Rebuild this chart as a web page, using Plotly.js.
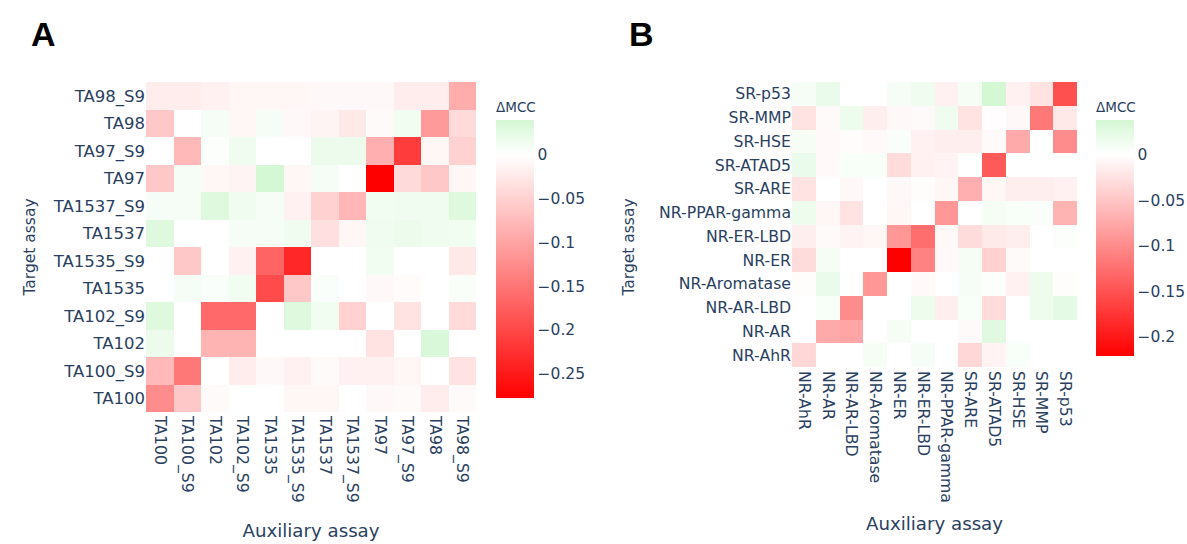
<!DOCTYPE html>
<html>
<head>
<meta charset="utf-8">
<script src="https://cdn.plot.ly/plotly-3.0.1.min.js"></script>
<style>
  html, body { margin: 0; padding: 0; background: #fff; }
  #chart { width: 1187px; height: 544px; }
</style>
</head>
<body>
<div id="chart"></div>
<script>
// ---- Panel A: Ames strains (with / without S9) ----
const assaysA = ["TA100", "TA100_S9", "TA102", "TA102_S9", "TA1535", "TA1535_S9",
                 "TA1537", "TA1537_S9", "TA97", "TA97_S9", "TA98", "TA98_S9"];

// one row per target assay (bottom to top), one value per auxiliary assay
const rowA_TA100     = [-0.125, -0.06, -0.005, 0, 0, -0.01, -0.01, 0, -0.008, -0.005, -0.02, -0.005];
const rowA_TA100_S9  = [-0.076, -0.147, 0, -0.02, -0.008, -0.015, -0.005, -0.015, -0.015, -0.01, 0, -0.03];
const rowA_TA102     = [0.018, 0, -0.082, -0.082, 0, 0, 0, 0, -0.03, 0, 0.035, 0];
const rowA_TA102_S9  = [0.03, 0, -0.163, -0.163, 0, 0.03, 0.012, -0.05, 0, -0.03, 0, -0.04];
const rowA_TA1535    = [0, 0.008, 0.005, 0.012, -0.196, -0.06, 0.005, 0, -0.008, -0.004, 0, 0.006];
const rowA_TA1535_S9 = [0, -0.06, 0, -0.015, -0.169, -0.235, 0, 0, 0.012, 0, 0, -0.025];
const rowA_TA1537    = [0.03, 0, 0, 0.008, 0.008, 0.015, -0.035, -0.01, 0.015, 0.018, 0.015, 0.012];
const rowA_TA1537_S9 = [0.008, 0.008, 0.03, 0.015, 0.008, -0.015, -0.05, -0.08, 0.012, 0.015, 0.015, 0.03];
const rowA_TA97      = [-0.06, 0.008, -0.01, -0.012, 0.04, -0.01, 0.008, 0, -0.278, -0.04, -0.06, -0.01];
const rowA_TA97_S9   = [0, -0.076, 0.004, 0.015, 0, 0, 0.018, 0.018, -0.087, -0.213, -0.01, -0.05];
const rowA_TA98      = [-0.06, 0, 0.008, -0.01, 0.008, -0.008, -0.012, -0.025, -0.005, 0.012, -0.11, -0.04];
const rowA_TA98_S9   = [-0.02, -0.02, -0.015, -0.01, -0.01, -0.01, -0.008, -0.008, -0.008, -0.02, -0.02, -0.09];

// ---- Panel B: Tox21 nuclear receptor / stress response assays ----
const assaysB = ["NR-AhR", "NR-AR", "NR-AR-LBD", "NR-Aromatase", "NR-ER", "NR-ER-LBD",
                 "NR-PPAR-gamma", "SR-ARE", "SR-ATAD5", "SR-HSE", "SR-MMP", "SR-p53"];

const rowB_AhR       = [-0.035, 0, 0, 0.009, 0, 0.008, 0, -0.035, -0.01, 0.006, 0, 0];
const rowB_AR        = [0, -0.074, -0.078, 0, 0.009, 0, 0, -0.004, 0.027, 0, 0, 0];
const rowB_AR_LBD    = [0, 0.006, -0.1, 0, 0, 0.015, -0.015, 0.006, -0.03, 0, 0.015, 0.024];
const rowB_Aromatase = [-0.003, 0.018, 0, -0.09, 0, -0.005, 0, 0.008, 0.003, -0.012, 0.015, -0.003];
const rowB_ER        = [-0.03, 0.009, 0, 0, -0.221, -0.108, -0.005, 0.009, -0.04, -0.004, 0, 0];
const rowB_ER_LBD    = [-0.015, -0.004, -0.01, -0.008, -0.09, -0.126, -0.006, -0.03, -0.018, -0.015, 0, 0.003];
const rowB_PPARg     = [0.015, -0.008, -0.025, 0, -0.008, 0, -0.09, 0, 0.009, 0.006, 0.004, -0.065];
const rowB_ARE       = [-0.025, 0, -0.006, 0, -0.006, -0.003, -0.008, -0.069, -0.008, -0.015, -0.015, -0.012];
const rowB_ATAD5     = [0.018, -0.005, 0.006, 0.006, -0.03, -0.012, -0.01, 0, -0.143, 0, 0, 0];
const rowB_HSE       = [0.009, -0.005, -0.003, -0.005, 0.004, -0.012, -0.015, -0.015, -0.004, -0.074, 0, -0.1];
const rowB_MMP       = [-0.025, -0.004, 0.015, -0.015, -0.006, -0.004, 0.012, -0.025, -0.002, -0.006, -0.117, -0.02];
const rowB_p53       = [0.008, 0.018, 0, 0, 0.008, 0.012, -0.012, 0.009, 0.038, -0.012, -0.025, -0.152];

const zA = [rowA_TA100, rowA_TA100_S9, rowA_TA102, rowA_TA102_S9, rowA_TA1535, rowA_TA1535_S9,
            rowA_TA1537, rowA_TA1537_S9, rowA_TA97, rowA_TA97_S9, rowA_TA98, rowA_TA98_S9];
const zB = [rowB_AhR, rowB_AR, rowB_AR_LBD, rowB_Aromatase, rowB_ER, rowB_ER_LBD,
            rowB_PPARg, rowB_ARE, rowB_ATAD5, rowB_HSE, rowB_MMP, rowB_p53];

// red -> white (at zero) -> pale green, white stop placed from the data range
function deltaScale(z) {
  const flat = z.flat();
  const lo = Math.min(...flat), hi = Math.max(...flat);
  const mid = (0 - lo) / (hi - lo);
  return {
    lo: lo, hi: hi,
    scale: [[0, "rgb(255,0,0)"], [mid, "rgb(255,255,255)"], [1, "rgb(212,247,212)"]]
  };
}
const csA = deltaScale(zA);
const csB = deltaScale(zB);

const W = 1187, H = 544;
const px = v => v / W;          // horizontal pixel -> paper fraction
const py = v => 1 - v / H;      // vertical pixel (from top) -> paper fraction

const textColor = "#2a3f5f";
const family = "'DejaVu Sans', Verdana, sans-serif";

function colorbar(left, top, bottom) {
  return {
    x: px(left), xanchor: "left", xpad: 0,
    y: py(bottom), yanchor: "bottom", ypad: 0,
    len: (bottom - top) / H, lenmode: "fraction",
    thickness: 38, outlinewidth: 0, ticks: "",
    tick0: 0, dtick: 0.05,
    tickfont: { family: family, size: 15.5, color: textColor },
    title: { text: "ΔMCC", side: "top", font: { family: family, size: 13.5, color: textColor } }
  };
}

const traces = [
  {
    type: "heatmap", x: assaysA, y: assaysA, z: zA,
    xaxis: "x", yaxis: "y",
    zmin: csA.lo, zmax: csA.hi, colorscale: csA.scale,
    colorbar: colorbar(496, 99, 398),
    hovertemplate: "Auxiliary: %{x}<br>Target: %{y}<br>ΔMCC: %{z}<extra></extra>"
  },
  {
    type: "heatmap", x: assaysB, y: assaysB, z: zB,
    xaxis: "x2", yaxis: "y2",
    zmin: csB.lo, zmax: csB.hi, colorscale: csB.scale,
    colorbar: colorbar(1096, 99, 356),
    hovertemplate: "Auxiliary: %{x}<br>Target: %{y}<br>ΔMCC: %{z}<extra></extra>"
  }
];

const axisCommon = {
  type: "category", showgrid: false, zeroline: false, showline: false,
  ticks: "", automargin: true
};
const xTitleFont = { family: family, size: 18.2, color: textColor };
const yTitleFont = { family: family, size: 15.5, color: textColor };
const tickFontA = { family: family, size: 16.5, color: textColor };
const tickFont = { family: family, size: 15.7, color: textColor };

// panel B heatmap occupies the upper part of the same vertical band as panel A
const rowsB = 330 / 23.75;

const layout = {
  width: W, height: H,
  margin: { l: 0, r: 0, t: 0, b: 0, autoexpand: false },
  paper_bgcolor: "#ffffff", plot_bgcolor: "#ffffff",
  font: { family: family, size: 15.5, color: textColor },
  showlegend: false,
  xaxis: Object.assign({}, axisCommon, {
    domain: [px(146), px(476)], anchor: "y", tickangle: 90, ticklabelstandoff: 3,
    tickfont: tickFont,
    title: { text: "Auxiliary assay", standoff: 22, font: xTitleFont }
  }),
  yaxis: Object.assign({}, axisCommon, {
    domain: [py(412), py(82)], anchor: "x",
    tickfont: tickFontA,
    title: { text: "Target assay", standoff: 13, font: yTitleFont }
  }),
  xaxis2: Object.assign({}, axisCommon, {
    domain: [px(792), px(1077)], anchor: "free", position: py(367), tickangle: 90, ticklabelstandoff: 3,
    tickfont: tickFont,
    title: { text: "Auxiliary assay", standoff: 15, font: xTitleFont }
  }),
  yaxis2: Object.assign({}, axisCommon, {
    domain: [py(412), py(82)], anchor: "x2",
    range: [11.5 - rowsB, 11.5],
    tickfont: tickFont,
    title: { text: "Target assay", standoff: 20, font: yTitleFont }
  }),
  annotations: [
    { text: "<b>A</b>", xref: "paper", yref: "paper", x: px(43), y: py(34),
      xanchor: "center", yanchor: "middle", showarrow: false,
      font: { family: "'Liberation Sans', Arial, sans-serif", size: 34, color: "#000000" } },
    { text: "<b>B</b>", xref: "paper", yref: "paper", x: px(641), y: py(34),
      xanchor: "center", yanchor: "middle", showarrow: false,
      font: { family: "'Liberation Sans', Arial, sans-serif", size: 34, color: "#000000" } }
  ]
};

Plotly.newPlot("chart", traces, layout, { displayModeBar: false, staticPlot: true });
</script>
</body>
</html>
